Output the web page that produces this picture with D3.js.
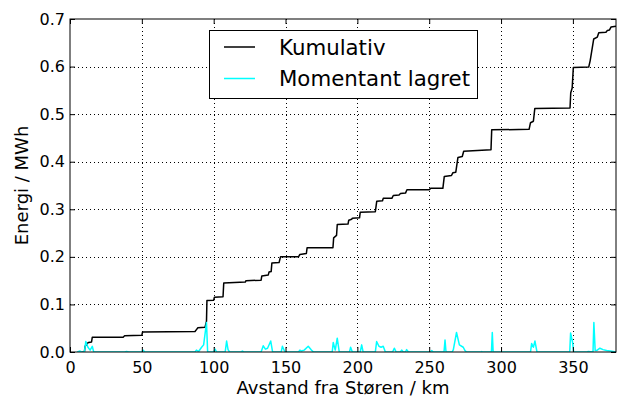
<!DOCTYPE html>
<html><head><meta charset="utf-8">
<script src="https://cdn.jsdelivr.net/npm/d3@7"></script>
<style>
html,body{margin:0;padding:0;background:#fff;}
svg text{font-family:"DejaVu Sans",sans-serif;fill:#000;}
</style></head>
<body><svg id="c" width="618" height="403"></svg>
<script>
// Cumulative energy (km, MWh)
const cumDist = [7,10,10.5,12,13,15,15.5,37,38,50,50.5,87,88,89,94,95,95.3,100,100.5,106.5,107,122,122.5,133,133.5,138,138.5,140,140.5,145.5,146.5,159,160,164.5,165,183,183.5,185.5,186,193.5,194,196,196.5,201.5,202,212.5,213.5,217.5,218,224,225,229,230,233.5,234.5,250,251,259.5,260.5,265.5,266.5,268.5,270,273,274,293,293.5,319.5,320.5,322.5,323.5,348,348.5,349.5,350.3,361,362,364.5,367,368,373,374,375.5,376.5,380];
const cumVal  = [0,0,0.012,0.018,0.02,0.021,0.031,0.031,0.034,0.035,0.042,0.043,0.047,0.051,0.052,0.065,0.108,0.109,0.115,0.116,0.145,0.147,0.150,0.151,0.160,0.162,0.168,0.169,0.187,0.188,0.200,0.200,0.205,0.207,0.219,0.219,0.240,0.245,0.268,0.269,0.277,0.279,0.281,0.282,0.294,0.295,0.317,0.318,0.323,0.323,0.329,0.330,0.333,0.334,0.341,0.341,0.344,0.344,0.369,0.371,0.377,0.378,0.409,0.411,0.422,0.425,0.467,0.468,0.482,0.485,0.512,0.513,0.545,0.555,0.598,0.599,0.612,0.658,0.662,0.671,0.672,0.676,0.677,0.683,0.685];
// Momentarily stored energy
const momDist = [5,7,8,10,11,12.5,14,15.5,16.5,38,39.4,41,50,50.8,52,87,88,89.5,91.6,93,95,95.8,100,101,102,108,109,110,111,119,120,121,133,134.5,136,137.5,139.7,141,147,147.8,149.6,159,160,161,163,165.8,168,169.5,182.5,183.2,184.6,186,187.4,194.5,195.3,196.5,202,203,204,212.5,213.4,215,216.5,218,219.5,224.5,225.7,227,230,230.8,232,233.5,234.3,235.5,251,251.7,253,260.3,261,261.7,266,266.8,269,271,273.7,274.9,276,286,286.5,287,293.3,293.9,294.5,320.5,321.3,322.5,323.6,325,347.8,348.4,349.8,350.5,360,360.7,364,364.6,365.5,366.5,368.8,371,373.5,376,378,380];
const momVal  = [0,0.002,0,0,0.022,0.01,0.004,0.012,0,0,0.001,0,0,0.004,0,0,0.004,0.001,0.01,0.015,0.062,0,0,0.006,0,0,0.023,0.005,0,0,0.002,0,0,0.013,0.006,0.008,0.023,0,0,0.012,0,0,0.004,0.002,0.004,0.012,0.004,0,0,0.02,0.004,0.029,0,0,0.01,0,0,0.015,0,0,0.022,0.012,0.01,0.012,0,0,0.008,0,0,0.004,0,0,0.005,0,0,0.003,0,0,0.025,0,0,0.005,0.041,0.015,0.01,0.003,0,0,0.001,0,0,0.041,0,0,0.018,0.01,0.023,0,0,0.04,0.02,0,0,0.001,0,0.062,0.003,0.003,0.008,0.005,0.003,0.002,0.001,0];
const xTicks = [0,50,100,150,200,250,300,350];
const yTicks = [0,0.1,0.2,0.3,0.4,0.5,0.6,0.7];
const seriesNames = ["Kumulativ","Momentant lagret"];
const seriesColors = ["#000000","#00ffff"];

const svg = d3.select("#c");
const L=70,R=616,T=19,B=352;
const x = d3.scaleLinear().domain([0,380]).range([L,R]);
const y = d3.scaleLinear().domain([0,0.7]).range([B,T]);

svg.append("clipPath").attr("id","clip").append("rect").attr("x",L).attr("y",T).attr("width",R-L).attr("height",B-T);

// grid
const grid = svg.append("g").attr("stroke","#000").attr("stroke-width",1).attr("stroke-dasharray","1,3");
grid.selectAll("line.gx").data(xTicks.slice(1)).join("line")
  .attr("x1",d=>Math.round(x(d))+0.5).attr("x2",d=>Math.round(x(d))+0.5).attr("y1",T).attr("y2",B);
grid.selectAll("line.gy").data(yTicks.slice(1,-1)).join("line")
  .attr("y1",d=>Math.round(y(d))+0.5).attr("y2",d=>Math.round(y(d))+0.5).attr("x1",L).attr("x2",R);

// lines
const line = d3.line().x(d=>x(d[0])).y(d=>y(d[1]));
const g = svg.append("g").attr("clip-path","url(#clip)");
g.append("path").datum(cumDist.map((d,i)=>[d,cumVal[i]]))
  .attr("d",line).attr("fill","none").attr("stroke",seriesColors[0]).attr("stroke-width",1.5).attr("stroke-linejoin","round");
g.append("path").datum(momDist.map((d,i)=>[d,momVal[i]]))
  .attr("d",line).attr("fill","none").attr("stroke",seriesColors[1]).attr("stroke-width",1.5).attr("stroke-linejoin","round");

// axes (ticks inward on all sides)
const tl = 5;
const axB = svg.append("g").attr("transform",`translate(0,${B})`).call(d3.axisBottom(x).tickValues(xTicks).tickSize(-tl).tickPadding(10).tickFormat(d3.format("d")));
const axT = svg.append("g").attr("transform",`translate(0,${T})`).call(d3.axisTop(x).tickValues(xTicks).tickSize(-tl).tickFormat(""));
const axL = svg.append("g").attr("transform",`translate(${L},0)`).call(d3.axisLeft(y).tickValues(yTicks).tickSize(-tl).tickPadding(5).tickFormat(d3.format(".1f")));
const axR = svg.append("g").attr("transform",`translate(${R},0)`).call(d3.axisRight(y).tickValues(yTicks).tickSize(-tl).tickFormat(""));
[axB,axT,axL,axR].forEach(a=>{
  a.select(".domain").remove();
  a.selectAll("line").attr("stroke","#000");
  a.selectAll("text").attr("font-size",16).attr("font-family","DejaVu Sans").attr("fill","#000");
});
svg.append("rect").attr("x",L).attr("y",T).attr("width",R-L).attr("height",B-T).attr("fill","none").attr("stroke","#000").attr("stroke-width",1);

// axis labels
svg.append("text").attr("x",(L+R)/2).attr("y",394).attr("text-anchor","middle").attr("font-size",18).text("Avstand fra Støren / km");
svg.append("text").attr("transform",`translate(28,${(T+B)/2}) rotate(-90)`).attr("text-anchor","middle").attr("font-size",18).text("Energi / MWh");

// legend
const lg = svg.append("g");
lg.append("rect").attr("x",209.5).attr("y",30.5).attr("width",268).attr("height",68).attr("fill","#fff").attr("stroke","#000").attr("stroke-width",1);
seriesNames.forEach((n,i)=>{
  const yy = 47 + i*31.5;
  lg.append("line").attr("x1",224).attr("x2",255).attr("y1",yy).attr("y2",yy).attr("stroke",seriesColors[i]).attr("stroke-width",1.5);
  lg.append("text").attr("x",279).attr("y",yy+7.5).attr("font-size",21.3).text(n);
});
</script></body></html>
